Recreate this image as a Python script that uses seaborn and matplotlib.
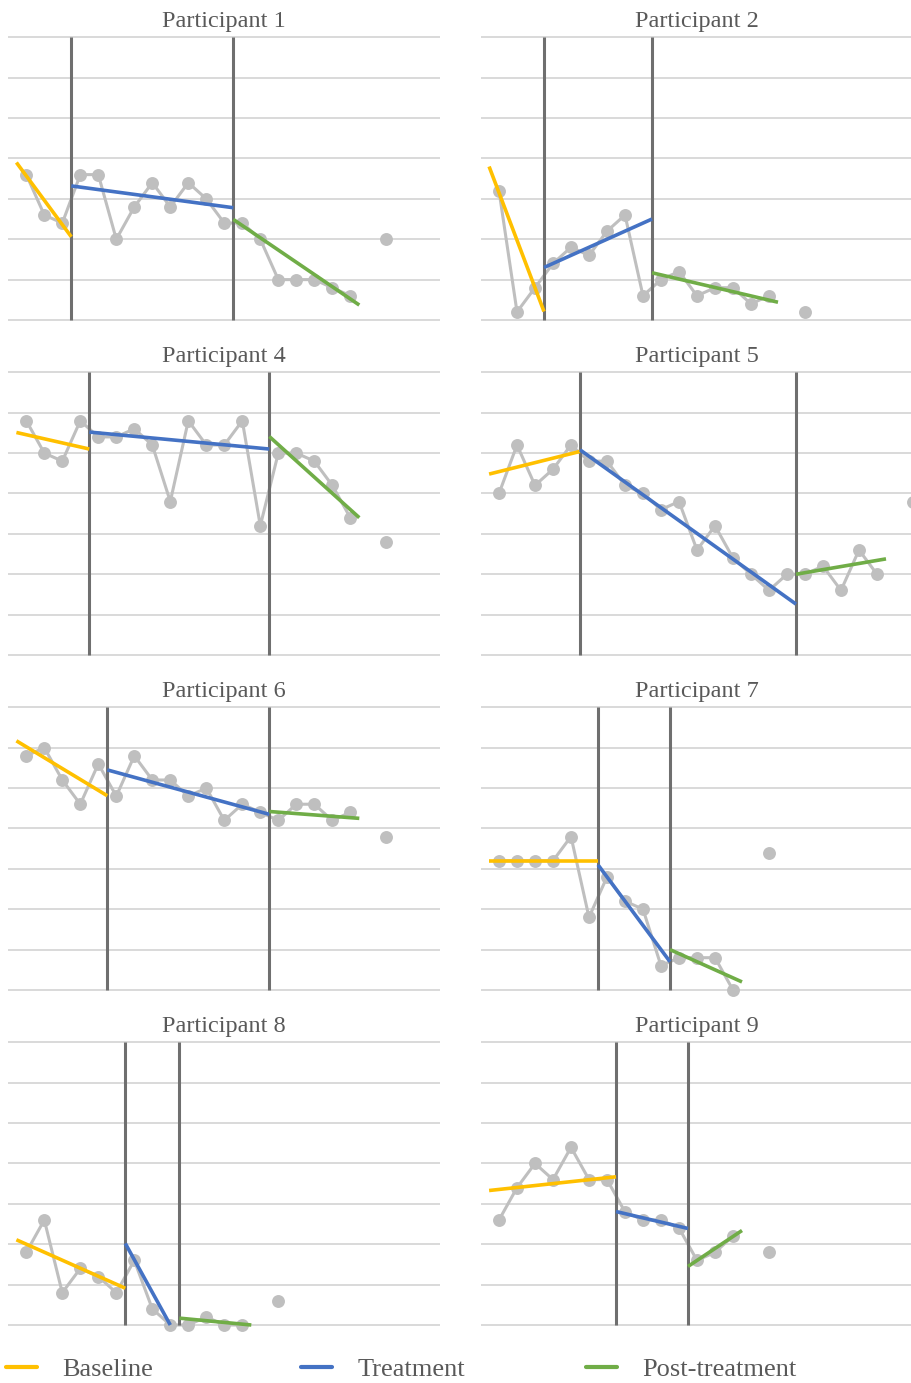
import numpy as np
import pandas as pd
import matplotlib
matplotlib.use("Agg")
import matplotlib.pyplot as plt
from matplotlib.lines import Line2D
import seaborn as sns

# ---------------------------------------------------------------------------
# Session scores (sessions 1..n, connected), follow-up point, phase changes,
# and the fitted trend segments for each phase: ([x0, x1], [y0, y1]).
# ---------------------------------------------------------------------------
P1_SCORES = [3.6, 2.6, 2.4, 3.6, 3.6, 2.0, 2.8, 3.4, 2.8, 3.4, 3.0, 2.4,
             2.4, 2.0, 1.0, 1.0, 1.0, 0.8, 0.6]
P1_FOLLOWUP = (21, 2.0)
P1_PHASES = [3.5, 12.5]
P1_BASELINE_FIT = ([0.45, 3.5], [3.90, 2.06])
P1_TREATMENT_FIT = ([3.5, 12.5], [3.32, 2.78])
P1_POST_FIT = ([12.5, 19.5], [2.49, 0.37])

P2_SCORES = [3.2, 0.2, 0.8, 1.4, 1.8, 1.6, 2.2, 2.6, 0.6, 1.0, 1.2, 0.6,
             0.8, 0.8, 0.4, 0.6]
P2_FOLLOWUP = (18, 0.2)
P2_PHASES = [3.5, 9.5]
P2_BASELINE_FIT = ([0.45, 3.5], [3.80, 0.21])
P2_TREATMENT_FIT = ([3.5, 9.5], [1.30, 2.50])
P2_POST_FIT = ([9.5, 16.5], [1.17, 0.44])

P4_SCORES = [5.8, 5.0, 4.8, 5.8, 5.4, 5.4, 5.6, 5.2, 3.8, 5.8, 5.2, 5.2,
             5.8, 3.2, 5.0, 5.0, 4.8, 4.2, 3.4]
P4_FOLLOWUP = (21, 2.8)
P4_PHASES = [4.5, 14.5]
P4_BASELINE_FIT = ([0.45, 4.5], [5.51, 5.10])
P4_TREATMENT_FIT = ([4.5, 14.5], [5.52, 5.10])
P4_POST_FIT = ([14.5, 19.5], [5.41, 3.40])

P5_SCORES = [4.0, 5.2, 4.2, 4.6, 5.2, 4.8, 4.8, 4.2, 4.0, 3.6, 3.8, 2.6,
             3.2, 2.4, 2.0, 1.6, 2.0, 2.0, 2.2, 1.6, 2.6, 2.0]
P5_FOLLOWUP = (24, 3.8)
P5_PHASES = [5.5, 17.5]
P5_BASELINE_FIT = ([0.45, 5.5], [4.48, 5.04])
P5_TREATMENT_FIT = ([5.5, 17.5], [5.08, 1.26])
P5_POST_FIT = ([17.5, 22.5], [2.00, 2.38])

P6_SCORES = [5.8, 6.0, 5.2, 4.6, 5.6, 4.8, 5.8, 5.2, 5.2, 4.8, 5.0, 4.2,
             4.6, 4.4, 4.2, 4.6, 4.6, 4.2, 4.4]
P6_FOLLOWUP = (21, 3.8)
P6_PHASES = [5.5, 14.5]
P6_BASELINE_FIT = ([0.45, 5.5], [6.17, 4.81])
P6_TREATMENT_FIT = ([5.5, 14.5], [5.45, 4.35])
P6_POST_FIT = ([14.5, 19.5], [4.42, 4.25])

P7_SCORES = [3.2, 3.2, 3.2, 3.2, 3.8, 1.8, 2.8, 2.2, 2.0, 0.6, 0.8, 0.8,
             0.8, 0.0]
P7_FOLLOWUP = (16, 3.4)
P7_PHASES = [6.5, 10.5]
P7_BASELINE_FIT = ([0.45, 6.5], [3.20, 3.20])
P7_TREATMENT_FIT = ([6.5, 10.5], [3.10, 0.70])
P7_POST_FIT = ([10.5, 14.5], [1.00, 0.20])

P8_SCORES = [1.8, 2.6, 0.8, 1.4, 1.2, 0.8, 1.6, 0.4, 0.0, 0.0, 0.2, 0.0,
             0.0]
P8_FOLLOWUP = (15, 0.6)
P8_PHASES = [6.5, 9.5]
P8_BASELINE_FIT = ([0.45, 6.5], [2.11, 0.91])
P8_TREATMENT_FIT = ([6.5, 9.0], [2.02, 0.00])
P8_POST_FIT = ([9.5, 13.5], [0.17, 0.00])

P9_SCORES = [2.6, 3.4, 4.0, 3.6, 4.4, 3.6, 3.6, 2.8, 2.6, 2.6, 2.4, 1.6,
             1.8, 2.2]
P9_FOLLOWUP = (16, 1.8)
P9_PHASES = [7.5, 11.5]
P9_BASELINE_FIT = ([0.45, 7.5], [3.33, 3.67])
P9_TREATMENT_FIT = ([7.5, 11.5], [2.81, 2.39])
P9_POST_FIT = ([11.5, 14.5], [1.45, 2.34])

PANELS = [
    ("Participant 1", P1_SCORES, P1_FOLLOWUP, P1_PHASES, P1_BASELINE_FIT, P1_TREATMENT_FIT, P1_POST_FIT),
    ("Participant 2", P2_SCORES, P2_FOLLOWUP, P2_PHASES, P2_BASELINE_FIT, P2_TREATMENT_FIT, P2_POST_FIT),
    ("Participant 4", P4_SCORES, P4_FOLLOWUP, P4_PHASES, P4_BASELINE_FIT, P4_TREATMENT_FIT, P4_POST_FIT),
    ("Participant 5", P5_SCORES, P5_FOLLOWUP, P5_PHASES, P5_BASELINE_FIT, P5_TREATMENT_FIT, P5_POST_FIT),
    ("Participant 6", P6_SCORES, P6_FOLLOWUP, P6_PHASES, P6_BASELINE_FIT, P6_TREATMENT_FIT, P6_POST_FIT),
    ("Participant 7", P7_SCORES, P7_FOLLOWUP, P7_PHASES, P7_BASELINE_FIT, P7_TREATMENT_FIT, P7_POST_FIT),
    ("Participant 8", P8_SCORES, P8_FOLLOWUP, P8_PHASES, P8_BASELINE_FIT, P8_TREATMENT_FIT, P8_POST_FIT),
    ("Participant 9", P9_SCORES, P9_FOLLOWUP, P9_PHASES, P9_BASELINE_FIT, P9_TREATMENT_FIT, P9_POST_FIT),
]

PHASE_LABELS = ["Baseline", "Treatment", "Post-treatment"]
PHASE_COLORS = ["#FFC000", "#4472C4", "#70AD47"]
DATA_GRAY = "#BFBFBF"
GRID_GRAY = "#D9D9D9"
DIVIDER_GRAY = "#6F6F6F"
TEXT_GRAY = "#595959"

# ---------------------------------------------------------------------------
sns.set_theme(style="white")
plt.rcParams["font.family"] = ["Liberation Serif", "DejaVu Serif"]

W, H = 911, 1383
fig = plt.figure(figsize=(W / 100, H / 100), dpi=100)

Y_MIN, Y_MAX, Y_PAD = 0, 7, 0.1
PX_PER_UNIT = (320.0 - 37.3) / (Y_MAX - Y_MIN)
COL_LEFT = [8.3, 481.0]
PANEL_W = 432.0
ROW_STEP = 335.0
TOP_GRID = 37.3

for i, (title, scores, followup, phases, base_fit, treat_fit, post_fit) in enumerate(PANELS):
    row, col = divmod(i, 2)
    top_px = TOP_GRID + ROW_STEP * row - Y_PAD * PX_PER_UNIT
    h_px = (Y_MAX - Y_MIN + 2 * Y_PAD) * PX_PER_UNIT
    ax = fig.add_axes([COL_LEFT[col] / W, 1 - (top_px + h_px) / H, PANEL_W / W, h_px / H])

    sessions = np.arange(1, len(scores) + 1)
    df = pd.DataFrame({
        "session": np.append(sessions, followup[0]),
        "score": np.append(scores, followup[1]),
        "segment": ["series"] * len(scores) + ["follow-up"],
    })
    sns.lineplot(data=df, x="session", y="score", units="segment", estimator=None,
                 color=DATA_GRAY, linewidth=2.2, marker="o", markersize=9.3,
                 markeredgewidth=0, markerfacecolor=DATA_GRAY, ax=ax, legend=False,
                 zorder=2, clip_on=False)

    for xv in phases:
        ax.vlines(xv, Y_MIN, Y_MAX, color=DIVIDER_GRAY, linewidth=2.2, zorder=3)

    for (fx, fy), colr in zip([base_fit, treat_fit, post_fit], PHASE_COLORS):
        sns.lineplot(x=fx, y=fy, color=colr, linewidth=2.6, ax=ax, zorder=4,
                     solid_capstyle="butt")

    ax.set_xlim(0, 24)
    ax.set_ylim(Y_MIN - Y_PAD, Y_MAX + Y_PAD)
    ax.set_yticks(range(Y_MIN, Y_MAX + 1))
    ax.set_xticks([])
    ax.yaxis.grid(True, color=GRID_GRAY, linewidth=1.4)
    ax.set_axisbelow(True)
    ax.tick_params(left=False, labelleft=False, bottom=False, labelbottom=False)
    ax.set_xlabel("")
    ax.set_ylabel("")
    for s in ax.spines.values():
        s.set_visible(False)
    ax.set_facecolor("none")
    ax.set_title(title, fontsize=17.5, color=TEXT_GRAY, pad=4.8)

# Legend: one entry per phase, spread across the bottom
LEGEND_X = [5.5, 300.5, 585.5]
LEGEND_Y = 1369.0
for lx, lab, colr in zip(LEGEND_X, PHASE_LABELS, PHASE_COLORS):
    handle = Line2D([], [], color=colr, linewidth=3.0)
    fig.legend([handle], [lab], loc="center left",
               bbox_to_anchor=(lx / W, 1 - LEGEND_Y / H),
               frameon=False, borderpad=0, borderaxespad=0,
               handlelength=1.2, handletextpad=0.95,
               prop={"size": 19}, labelcolor=TEXT_GRAY)

fig.savefig("out.png", dpi=100, facecolor="white")
